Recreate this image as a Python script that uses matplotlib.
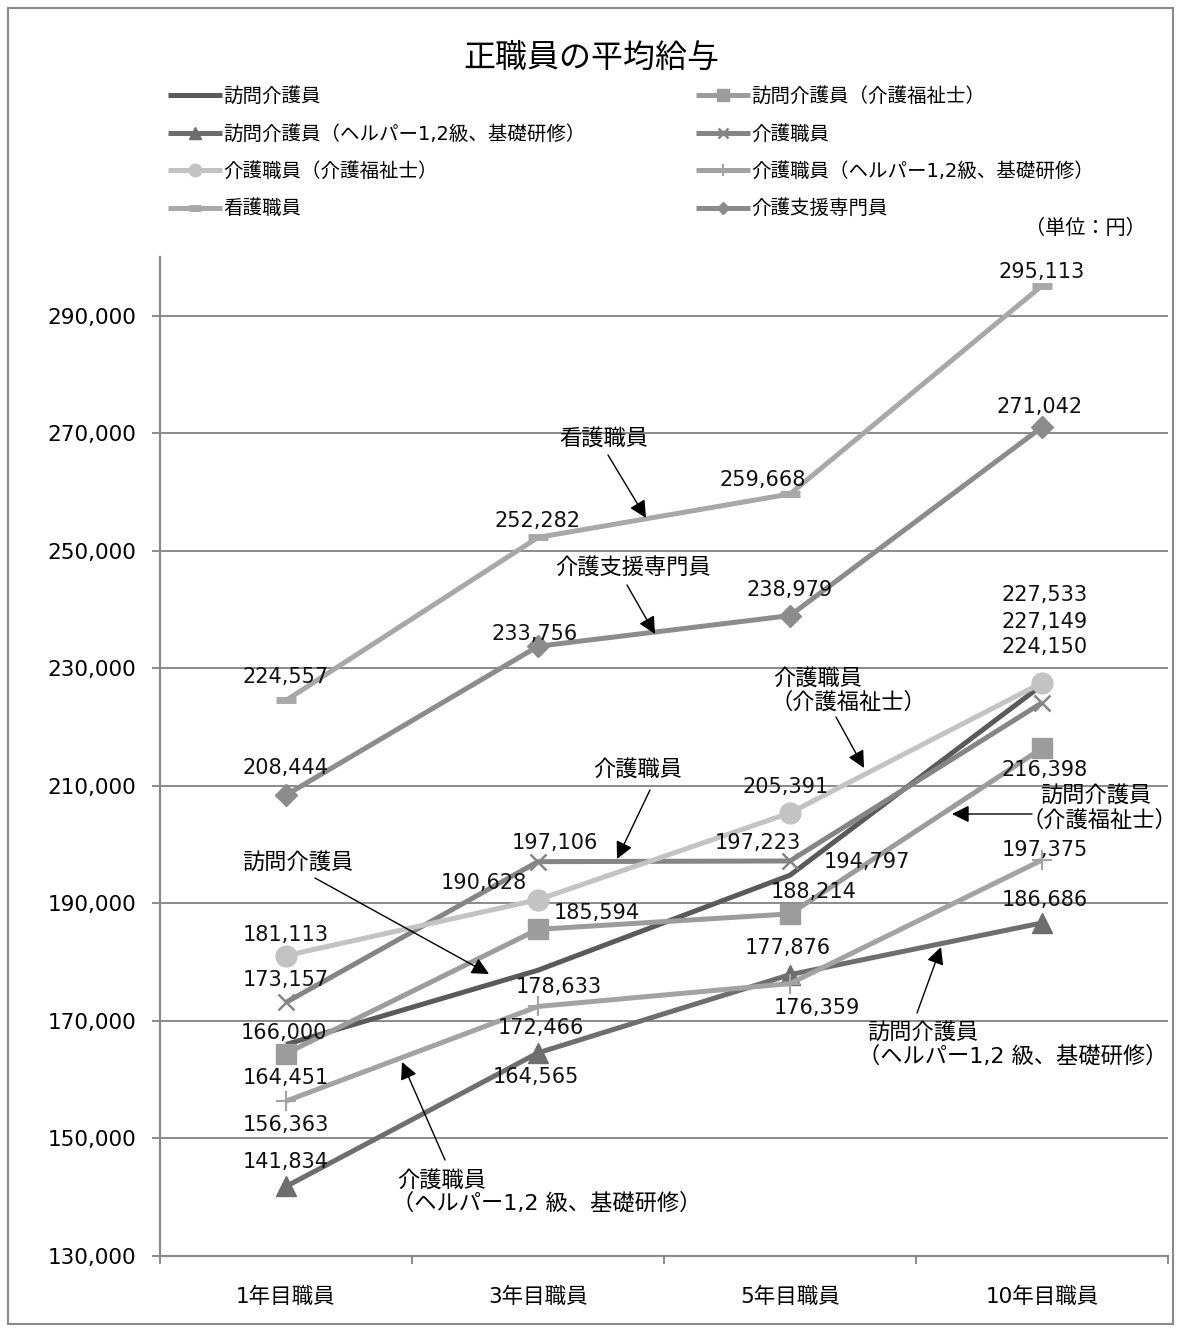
import matplotlib
matplotlib.use("Agg")
import matplotlib.pyplot as plt
from matplotlib.patches import Rectangle
from matplotlib.ticker import FuncFormatter, FixedLocator

plt.rcParams['font.family'] = ['DejaVu Sans', 'Noto Sans CJK JP']

# ---------------- data ----------------
categories = ["1年目職員", "3年目職員", "5年目職員", "10年目職員"]
series_names = [
    "訪問介護員",
    "訪問介護員（介護福祉士）",
    "訪問介護員（ヘルパー1,2級、基礎研修）",
    "介護職員",
    "介護職員（介護福祉士）",
    "介護職員（ヘルパー1,2級、基礎研修）",
    "看護職員",
    "介護支援専門員",
]
houmon = [166000, 178633, 194797, 227149]
houmon_fukushi = [164451, 185594, 188214, 216398]
houmon_helper = [141834, 164565, 177876, 186686]
kaigo = [173157, 197106, 197223, 224150]
kaigo_fukushi = [181113, 190628, 205391, 227533]
kaigo_helper = [156363, 172466, 176359, 197375]
kango = [224557, 252282, 259668, 295113]
shien = [208444, 233756, 238979, 271042]
values = [houmon, houmon_fukushi, houmon_helper, kaigo,
          kaigo_fukushi, kaigo_helper, kango, shien]

# ---------------- styles ----------------
colors = ["#5a5a5a", "#9c9c9c", "#6e6e6e", "#858585",
          "#c3c3c3", "#a3a3a3", "#a8a8a8", "#8c8c8c"]
markers = [None, "s", "^", "x", "o", "+", "_", "D"]
msizes = [0, 14, 15, 12, 15, 15, 15, 11]
mews = [0, 1, 1, 1.8, 1, 1.5, 5, 1]

# label offsets (pixels) per series, per category
offsets = [
    [(-2, 11), (21, -17), (77, 13), (3, 63)],
    [(0, -24), (59, 16), (24, 22), (3, -22)],
    [(0, 24), (-2, -24), (-2, 27), (3, 23)],
    [(0, 22), (17, 19), (-32, 18), (3, 56)],
    [(0, 21), (-54, 17), (-4, 26), (3, 88)],
    [(0, -24), (3, -22), (27, -24), (3, 10)],
    [(0, 23), (0, 16), (-27, 14), (0, 14)],
    [(0, 27), (-3, 12), (0, 26), (-2, 20)],
]

W, H = 1180, 1329
fig = plt.figure(figsize=(W / 100, H / 100), dpi=100)

def fp(x, y):
    return (x / W, 1 - y / H)

ax = fig.add_axes([160 / W, 1 - 1256 / H, (1168 - 160) / W, (1256 - 257) / H])

xs = [0.5, 1.5, 2.5, 3.5]
handles = []
for i, (name, vals) in enumerate(zip(series_names, values)):
    ln, = ax.plot(xs, vals, color=colors[i], lw=3.6,
                  marker=markers[i], markersize=msizes[i],
                  markeredgewidth=mews[i], markerfacecolor=colors[i],
                  markeredgecolor=colors[i], solid_capstyle='butt',
                  label=name, zorder=3)
    handles.append(ln)
    for j, v in enumerate(vals):
        dx, dy = offsets[i][j]
        ax.annotate(f"{v:,}", xy=(xs[j], v), xytext=(dx, dy),
                    textcoords='offset pixels', ha='center', va='center',
                    fontsize=15, color='#111111', zorder=5)

ax.set_xlim(0, 4)
ax.set_ylim(130000, 300000)
ax.yaxis.set_major_locator(FixedLocator(list(range(130000, 300001, 20000))))
ax.yaxis.set_major_formatter(FuncFormatter(lambda v, p: f"{int(v):,}"))
ax.grid(axis='y', color='#8a8a8a', lw=1.4, zorder=0)
ax.set_axisbelow(True)

ax.set_xticks([0, 1, 2, 3, 4])
ax.set_xticklabels([])
ax.set_xticks(xs, minor=True)
ax.set_xticklabels(categories, minor=True, fontsize=15.5)
ax.tick_params(axis='x', which='minor', length=0, pad=22)
ax.tick_params(axis='x', which='major', length=6, width=1.4, color='#8a8a8a', direction='out')
ax.tick_params(axis='y', length=6, width=1.4, color='#8a8a8a', direction='out',
               pad=11, labelsize=15.5)
for s in ['top', 'right']:
    ax.spines[s].set_visible(False)
for s in ['left', 'bottom']:
    ax.spines[s].set_color('#8a8a8a')
    ax.spines[s].set_linewidth(1.6)

# title & unit
fig.text(*fp(591, 58), "正職員の平均給与", ha='center', va='center', fontsize=23)
fig.text(*fp(1085, 228), "（単位：円）", ha='center', va='center', fontsize=14.5)

# legends: two columns
col1 = [handles[k] for k in (0, 2, 4, 6)]
col2 = [handles[k] for k in (1, 3, 5, 7)]
for cols, x0 in ((col1, 172), (col2, 700)):
    fig.legend(handles=cols, labels=[h.get_label() for h in cols],
               loc='upper left', bbox_to_anchor=fp(x0 - 4, 87),
               frameon=False, fontsize=14, handlelength=2.8,
               handletextpad=0.05, labelspacing=0.95, borderpad=0,
               borderaxespad=0, markerscale=0.6, numpoints=1)

# annotations with arrows
arrow = dict(arrowstyle='-|>', color='black', lw=1.0, mutation_scale=26,
             shrinkA=0, shrinkB=0)

def txt(s, xy, ha='center'):
    fig.text(*fp(*xy), s, ha=ha, va='center', fontsize=16)

def arr(tail, head):
    ax.annotate("", xy=fp(*head), xytext=fp(*tail), xycoords='figure fraction',
                textcoords='figure fraction', arrowprops=arrow)

txt("看護職員", (604, 438)); arr((608, 455), (646, 518))
txt("介護支援専門員", (633, 568)); arr((627, 585), (655, 634))
txt("介護職員", (818, 678)); txt("（介護福祉士）", (848, 702))
arr((836, 717), (864, 768))
txt("介護職員", (638, 769)); arr((650, 790), (617, 859))
txt("訪問介護員", (298, 862)); arr((315, 878), (489, 974))
txt("訪問介護員", (1096, 795)); txt("（介護福祉士）", (1099, 820))
arr((1032, 814), (952, 814))
txt("訪問介護員", (867, 1032), ha='left'); txt("（ヘルパー1,2 級、基礎研修）", (858, 1056), ha='left')
arr((917, 1013), (941, 947))
txt("介護職員", (397, 1180), ha='left'); txt("（ヘルパー1,2 級、基礎研修）", (392, 1203), ha='left')
arr((445, 1160), (402, 1062))

# outer frame
fig.patches.append(Rectangle(fp(8, 1324), (1173 - 8) / W, (1324 - 8) / H,
                             transform=fig.transFigure, fill=False,
                             edgecolor='#8a8a8a', lw=1.5))

fig.savefig("out.png", dpi=100)
